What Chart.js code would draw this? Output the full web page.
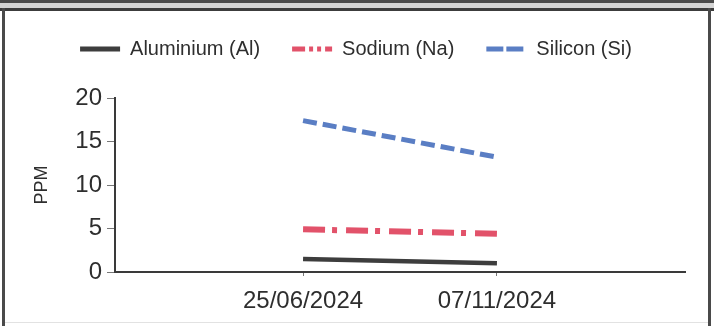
<!DOCTYPE html>
<html>
<head>
<meta charset="utf-8">
<script src="https://cdn.jsdelivr.net/npm/chart.js@4.4.1/dist/chart.umd.min.js"></script>
<style>
  html, body { margin: 0; padding: 0; background: #fff; }
  #wrap { position: relative; width: 714px; height: 326px; overflow: hidden; }
  #wrap canvas { position: absolute; left: 0; top: 0; }
  .ln { position: absolute; }
</style>
</head>
<body>
<div id="wrap">
  <canvas id="chart" width="714" height="326"></canvas>
  <div class="ln" style="left:0;top:0;width:714px;height:3px;background:#4a4a4a"></div>
  <div class="ln" style="left:0;top:3px;width:714px;height:5px;background:#d4d4d4"></div>
  <div class="ln" style="left:0;top:8px;width:714px;height:3px;background:#3c3c3c"></div>
  <div class="ln" style="left:2px;top:8px;width:3px;height:318px;background:#4a4a4a"></div>
  <div class="ln" style="left:708px;top:8px;width:3px;height:318px;background:#4a4a4a"></div>
  <div class="ln" style="left:5px;top:322px;width:703px;height:1px;background:#e2e2e2"></div>
</div>
<script>
// sample dates and readings (PPM)
const dates = ["25/06/2024", "07/11/2024"];
const aluminium = [1.5, 1.0];
const sodium = [4.9, 4.4];
const silicon = [17.4, 13.2];
const yTicks = [0, 5, 10, 15, 20];

function points(values) {
    return values.map((v, i) => ({ x: i + 1, y: v }));
}

// legend sample dashes look a bit shorter than on the lines
const legendDash = [[], [13, 4, 4, 4, 4, 4], [17, 3]];

const legendGap = {
    id: "legendGap",
    beforeInit(chart) {
        const fit = chart.legend.fit;
        chart.legend.fit = function () {
            fit.bind(chart.legend)();
            this.height += 29;
        };
    }
};

const ctx = document.getElementById("chart").getContext("2d");

new Chart(ctx, {
    type: "line",
    data: {
        datasets: [
            {
                label: "Aluminium (Al)",
                data: points(aluminium),
                borderColor: "#3d3d3d",
                backgroundColor: "#3d3d3d",
                borderWidth: 4.5,
                pointRadius: 0
            },
            {
                label: "Sodium (Na)",
                data: points(sodium),
                borderColor: "#e2526a",
                backgroundColor: "#e2526a",
                borderWidth: 6,
                borderDash: [22, 7, 5, 9],
                pointRadius: 0
            },
            {
                label: "Silicon (Si)",
                data: points(silicon),
                borderColor: "#5a7ec4",
                backgroundColor: "#5a7ec4",
                borderWidth: 5,
                borderDash: [14, 6],
                pointRadius: 0
            }
        ]
    },
    options: {
        responsive: false,
        animation: false,
        layout: {
            padding: { left: 27, right: 29, top: 7, bottom: 0 }
        },
        plugins: {
            tooltip: { enabled: false },
            legend: {
                position: "top",
                labels: {
                    usePointStyle: true,
                    pointStyle: "line",
                    pointStyleWidth: 40,
                    padding: 32,
                    color: "#2e2e2e",
                    font: { family: "'Liberation Sans', Arial, sans-serif", size: 20 },
                    generateLabels(chart) {
                        const items = Chart.defaults.plugins.legend.labels.generateLabels(chart);
                        items.forEach((item, i) => {
                            item.lineDash = legendDash[i];
                            item.lineWidth = 5;
                            item.pointStyle = "line";
                        });
                        return items;
                    }
                }
            }
        },
        scales: {
            x: {
                type: "linear",
                min: 0.03,
                max: 2.97,
                afterBuildTicks(axis) {
                    axis.ticks = dates.map((d, i) => ({ value: i + 1 }));
                },
                border: { color: "#3a3a3a", width: 2 },
                grid: { drawOnChartArea: false, drawTicks: true, tickLength: 4, color: "#777" },
                ticks: {
                    padding: 13,
                    color: "#2e2e2e",
                    autoSkip: false,
                    maxRotation: 0,
                    font: { family: "'Liberation Sans', Arial, sans-serif", size: 24, lineHeight: 1 },
                    callback: (v) => dates[v - 1] || ""
                }
            },
            y: {
                min: yTicks[0],
                max: yTicks[yTicks.length - 1],
                afterFit(scale) {
                    scale.width = 88;
                },
                afterBuildTicks(axis) {
                    axis.ticks = yTicks.map(v => ({ value: v }));
                },
                border: { color: "#3a3a3a", width: 2 },
                grid: { drawOnChartArea: false, drawTicks: true, tickLength: 8, color: "#777" },
                title: {
                    display: true,
                    text: "PPM",
                    color: "#2e2e2e",
                    padding: { top: 4, bottom: 0 },
                    font: { family: "'Liberation Sans', Arial, sans-serif", size: 18 }
                },
                ticks: {
                    padding: 5,
                    color: "#2e2e2e",
                    font: { family: "'Liberation Sans', Arial, sans-serif", size: 24 }
                }
            }
        }
    },
    plugins: [legendGap]
});
</script>
</body>
</html>
